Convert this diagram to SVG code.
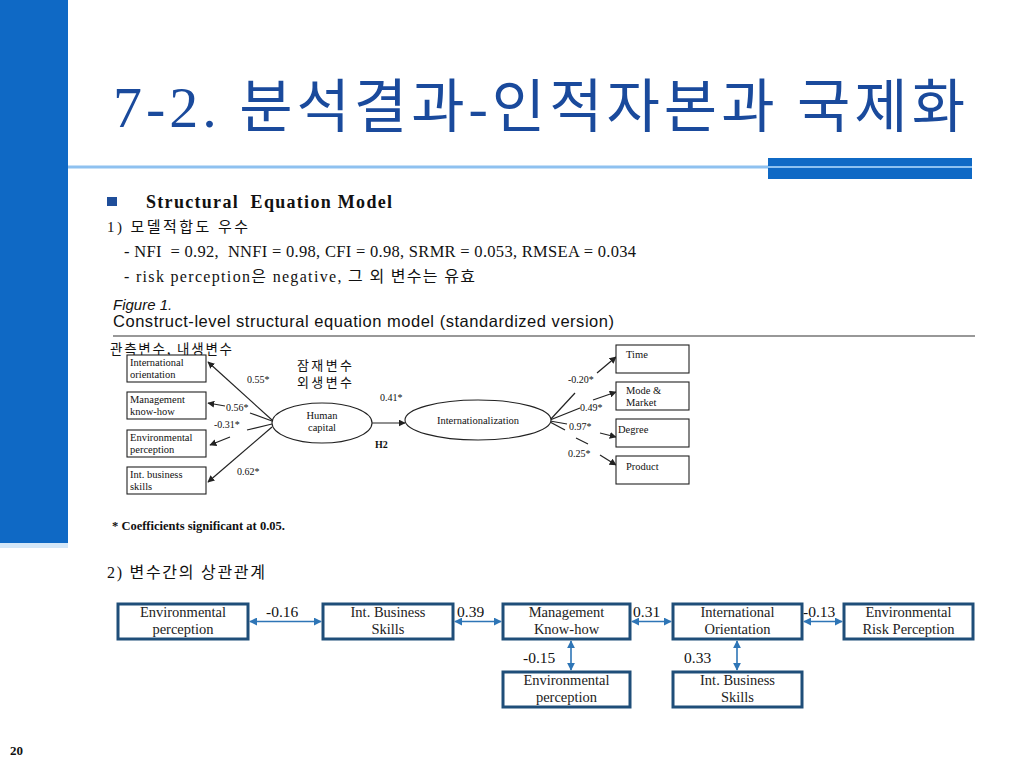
<svg xmlns="http://www.w3.org/2000/svg" width="1024" height="768" viewBox="0 0 1024 768">
<style>
.ser{font-family:"Liberation Serif","Noto Sans CJK KR",serif;}
.kr{font-family:"Liberation Serif","Noto Sans CJK KR",sans-serif;}
.fig{font-family:"Liberation Serif",serif;font-size:10.5px;fill:#111;}
.coef{font-family:"Liberation Serif",serif;font-size:10px;fill:#111;}
.fbox{fill:#fff;stroke:#222;stroke-width:1.1;}
.fl{stroke:#222;stroke-width:1.2;fill:none;}
.bbox{fill:#fff;stroke:#1F4E79;stroke-width:3;}
.bt{font-family:"Liberation Serif",serif;font-size:14.5px;fill:#222;text-anchor:middle;}
.bl{font-family:"Liberation Serif",serif;font-size:15.5px;fill:#111;}
.bc{stroke:#2E75B6;stroke-width:1.6;fill:none;marker-start:url(#ba);marker-end:url(#ba);}
</style>
<defs>
<marker id="fa" viewBox="0 0 10 10" refX="9" refY="5" markerWidth="7" markerHeight="7" markerUnits="userSpaceOnUse" orient="auto"><path d="M0,0 L10,5 L0,10 z" fill="#222"/></marker>
<marker id="ba" viewBox="0 0 10 10" refX="9" refY="5" markerWidth="8" markerHeight="8" markerUnits="userSpaceOnUse" orient="auto-start-reverse"><path d="M0,0 L10,5 L0,10 z" fill="#2E75B6"/></marker>
</defs>
<rect width="1024" height="768" fill="#fff"/>
<!-- slide decoration -->
<rect x="0" y="0" width="68" height="543" fill="#0F69C5"/>
<rect x="0" y="543" width="68" height="5" fill="#D4E7F8"/>
<line x1="68" y1="167" x2="972" y2="167" stroke="#8EC1F0" stroke-width="3"/>
<rect x="768" y="158" width="204" height="21" fill="#0F69C5"/>
<line x1="768" y1="167" x2="972" y2="167" stroke="#8EC1F0" stroke-width="2"/>
<text x="113" y="127" class="ser" font-size="58" fill="#1A4A9C" textLength="852">7-2. 분석결과-인적자본과 국제화</text>
<!-- bullet text -->
<rect x="107" y="197" width="10" height="9" fill="#1F4E9A"/>
<text x="146" y="208" class="ser" font-size="18" font-weight="bold" fill="#111" xml:space="preserve" textLength="246">Structural  Equation Model</text>
<text x="107" y="232" class="kr" font-size="15" fill="#111" textLength="141">1) 모델적합도 우수</text>
<text x="124" y="257" class="ser" font-size="16.5" fill="#111" textLength="512" xml:space="preserve">- NFI  = 0.92,  NNFI = 0.98, CFI = 0.98, SRMR = 0.053, RMSEA = 0.034</text>
<text x="124" y="282" class="kr" font-size="16" fill="#111" textLength="351">- risk perception은 negative, 그 외 변수는 유효</text>
<!-- figure -->
<text x="113" y="310" font-family="Liberation Sans,sans-serif" font-size="15" font-style="italic" fill="#111">Figure 1.</text>
<text x="113" y="327" font-family="Liberation Sans,sans-serif" font-size="16.5" fill="#111" textLength="501">Construct-level structural equation model (standardized version)</text>
<line x1="113" y1="336" x2="975" y2="336" stroke="#333" stroke-width="1.2"/>
<text x="110" y="354" font-family="Noto Sans CJK KR,sans-serif" font-size="13.5" fill="#111" textLength="122">관측변수, 내생변수</text>
<text x="297" y="370" font-family="Noto Sans CJK KR,sans-serif" font-size="13" fill="#111" textLength="55">잠재변수</text>
<text x="297" y="387" font-family="Noto Sans CJK KR,sans-serif" font-size="13" fill="#111" textLength="55">외생변수</text>
<g id="connectors-figure">
<line class="fl" x1="272" y1="420" x2="208" y2="362" marker-end="url(#fa)"/>
<line class="fl" x1="272" y1="421" x2="250" y2="413"/>
<line class="fl" x1="225" y1="406" x2="208" y2="403" marker-end="url(#fa)"/>
<line class="fl" x1="272" y1="424" x2="247" y2="430"/>
<line class="fl" x1="230" y1="437" x2="210" y2="445" marker-end="url(#fa)"/>
<line class="fl" x1="272" y1="427" x2="208" y2="482" marker-end="url(#fa)"/>
<line class="fl" x1="372" y1="423" x2="405" y2="423" marker-end="url(#fa)"/>
<line class="fl" x1="550" y1="420" x2="575" y2="393"/>
<line class="fl" x1="597" y1="373" x2="616" y2="357" marker-end="url(#fa)"/>
<line class="fl" x1="550" y1="420" x2="580" y2="408"/>
<line class="fl" x1="593" y1="400" x2="616" y2="392" marker-end="url(#fa)"/>
<line class="fl" x1="550" y1="421" x2="567" y2="424"/>
<line class="fl" x1="600" y1="433" x2="616" y2="437" marker-end="url(#fa)"/>
<line class="fl" x1="550" y1="422" x2="565" y2="430"/>
<line class="fl" x1="576" y1="438" x2="588" y2="444"/>
<line class="fl" x1="600" y1="455" x2="616" y2="465" marker-end="url(#fa)"/>
</g>
<text class="coef" x="247" y="383">0.55*</text>
<text class="coef" x="226" y="411">0.56*</text>
<text class="coef" x="214" y="428">-0.31*</text>
<text class="coef" x="237" y="475">0.62*</text>
<text class="coef" x="380" y="401">0.41*</text>
<text class="coef" x="375" y="448" font-weight="bold">H2</text>
<text class="coef" x="568" y="383">-0.20*</text>
<text class="coef" x="580" y="411">0.49*</text>
<text class="coef" x="569" y="430">0.97*</text>
<text class="coef" x="568" y="457">0.25*</text>
<g id="fig-international-orientation"><rect class="fbox" x="127" y="355" width="79" height="27"/><text class="fig" x="130" y="366">International</text><text class="fig" x="130" y="378">orientation</text></g>
<g id="fig-management-knowhow"><rect class="fbox" x="127" y="392" width="79" height="27"/><text class="fig" x="130" y="403">Management</text><text class="fig" x="130" y="415">know-how</text></g>
<g id="fig-environmental-perception"><rect class="fbox" x="127" y="430" width="79" height="27"/><text class="fig" x="130" y="441">Environmental</text><text class="fig" x="130" y="453">perception</text></g>
<g id="fig-int-business-skills"><rect class="fbox" x="127" y="467" width="79" height="27"/><text class="fig" x="130" y="478">Int. business</text><text class="fig" x="130" y="490">skills</text></g>
<g id="fig-human-capital"><ellipse cx="322" cy="423" rx="50" ry="20" class="fbox"/><text class="fig" x="322" y="419" text-anchor="middle">Human</text><text class="fig" x="322" y="431" text-anchor="middle">capital</text></g>
<g id="fig-internationalization"><ellipse cx="478" cy="420" rx="73" ry="20" class="fbox"/><text class="fig" x="478" y="424" text-anchor="middle">Internationalization</text></g>
<g id="fig-time"><rect class="fbox" x="616" y="345" width="73" height="28"/><text class="fig" x="626" y="358">Time</text></g>
<g id="fig-mode-market"><rect class="fbox" x="616" y="382" width="73" height="28"/><text class="fig" x="626" y="394">Mode &amp;</text><text class="fig" x="626" y="406">Market</text></g>
<g id="fig-degree"><rect class="fbox" x="616" y="419" width="73" height="28"/><text class="fig" x="618" y="433">Degree</text></g>
<g id="fig-product"><rect class="fbox" x="616" y="456" width="73" height="28"/><text class="fig" x="626" y="470">Product</text></g>
<text x="112" y="530" font-family="Liberation Serif,serif" font-size="12.5" font-weight="bold" fill="#111">* Coefficients significant at 0.05.</text>
<!-- correlations -->
<text x="107" y="578" class="kr" font-size="16" fill="#111" textLength="158">2) 변수간의 상관관계</text>
<g id="connectors">
<line class="bc" x1="250" y1="621.5" x2="321" y2="621.5"/>
<line class="bc" x1="455" y1="621.5" x2="501" y2="621.5"/>
<line class="bc" x1="632" y1="621.5" x2="671" y2="621.5"/>
<line class="bc" x1="804" y1="621.5" x2="842" y2="621.5"/>
<line class="bc" x1="571" y1="641" x2="571" y2="670"/>
<line class="bc" x1="737" y1="641" x2="737" y2="670"/>
</g>
<text class="bl" x="266" y="617">-0.16</text>
<text class="bl" x="457" y="617">0.39</text>
<text class="bl" x="633" y="617">0.31</text>
<text class="bl" x="803" y="617">-0.13</text>
<text class="bl" x="523" y="663">-0.15</text>
<text class="bl" x="684" y="663">0.33</text>
<g id="node-env-perception-1"><rect class="bbox" x="118" y="604" width="130" height="35"/><text class="bt" x="183" y="617">Environmental</text><text class="bt" x="183" y="634">perception</text></g>
<g id="node-int-business-1"><rect class="bbox" x="323" y="604" width="130" height="35"/><text class="bt" x="388" y="617">Int. Business</text><text class="bt" x="388" y="634">Skills</text></g>
<g id="node-management"><rect class="bbox" x="503" y="604" width="127" height="35"/><text class="bt" x="566.5" y="617">Management</text><text class="bt" x="566.5" y="634">Know-how</text></g>
<g id="node-international"><rect class="bbox" x="673" y="604" width="129" height="35"/><text class="bt" x="737.5" y="617">International</text><text class="bt" x="737.5" y="634">Orientation</text></g>
<g id="node-env-risk"><rect class="bbox" x="844" y="604" width="129" height="35"/><text class="bt" x="908.5" y="617">Environmental</text><text class="bt" x="908.5" y="634">Risk Perception</text></g>
<g id="node-env-perception-2"><rect class="bbox" x="503" y="672" width="127" height="35"/><text class="bt" x="566.5" y="685">Environmental</text><text class="bt" x="566.5" y="702">perception</text></g>
<g id="node-int-business-2"><rect class="bbox" x="673" y="672" width="129" height="35"/><text class="bt" x="737.5" y="685">Int. Business</text><text class="bt" x="737.5" y="702">Skills</text></g>
<text x="10" y="755" font-family="Liberation Serif,serif" font-size="13" font-weight="bold" fill="#111">20</text>
</svg>
